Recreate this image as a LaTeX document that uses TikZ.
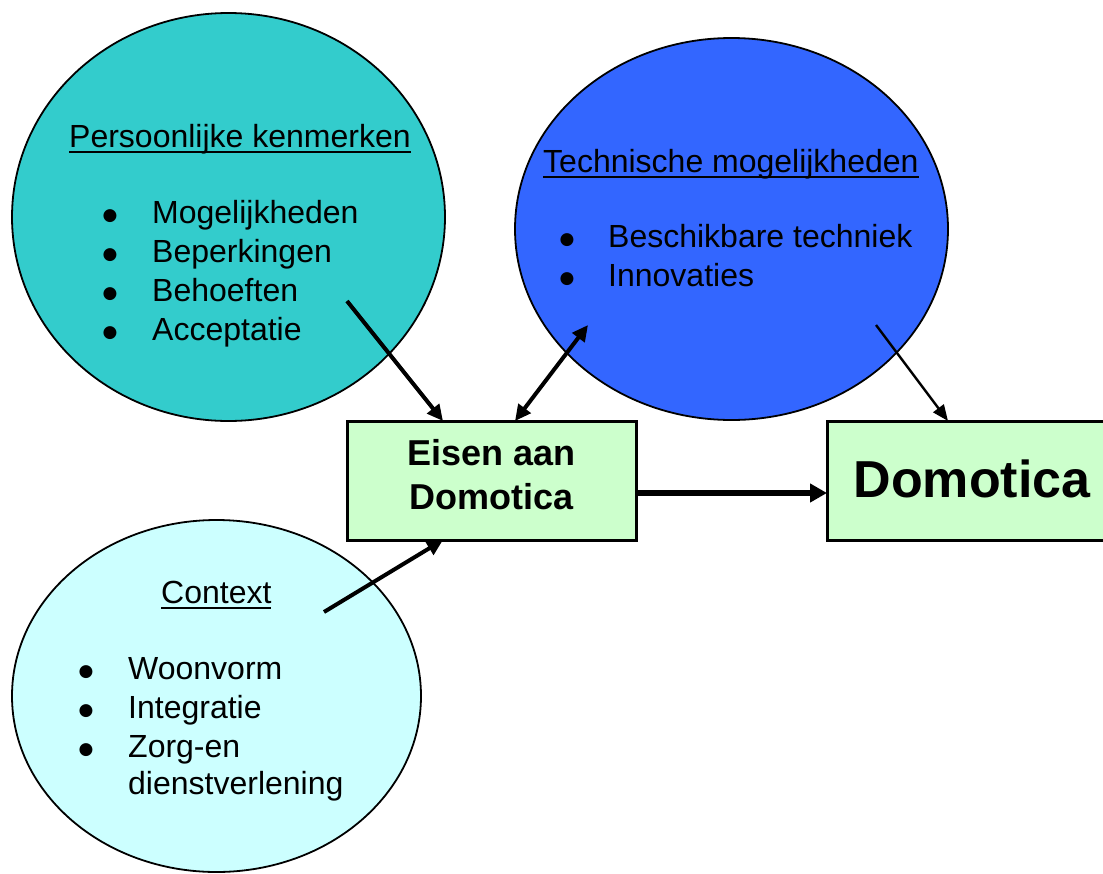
\documentclass[tikz,border=0pt]{standalone}
\usepackage{fontspec}
\setmainfont{Liberation Sans}
\newfontfamily\symfont{DejaVu Sans}
\usetikzlibrary{arrows.meta,shapes.geometric}
\definecolor{tealc}{HTML}{33CCCC}
\definecolor{bluec}{HTML}{3366FF}
\definecolor{cyanc}{HTML}{CCFFFF}
\definecolor{greenc}{HTML}{CCFFCC}
\newsavebox\myulbox
\newcommand\myul[1]{\sbox\myulbox{#1}\rlap{\rule[-5.6pt]{\wd\myulbox}{2pt}}\usebox\myulbox}
\tikzset{
  bubble/.style={ellipse, draw=black, line width=1.8pt, inner sep=0pt, outer sep=0pt},
  gbox/.style={rectangle, draw=black, line width=3pt, fill=greenc, inner sep=0pt, outer sep=0pt},
  txt/.style={anchor=base west, inner sep=0pt, font=\fontsize{32}{39}\selectfont},
  bul/.style={anchor=base, inner sep=0pt, yshift=3pt, font=\symfont\fontsize{17}{20}\selectfont},
  boxtxt/.style={anchor=base, inner sep=0pt, font=\fontsize{36}{44}\bfseries},
  bigtxt/.style={anchor=base, inner sep=0pt, font=\fontsize{52}{60}\bfseries},
  arr/.style={line width=4pt, -{Triangle[length=16pt,width=15pt]}},
  darr/.style={line width=4pt, {Triangle[length=16pt,width=15pt]}-{Triangle[length=16pt,width=15pt]}},
  thinarr/.style={line width=2.4pt, -{Triangle[length=16pt,width=13pt]}},
  fatarr/.style={line width=6pt, -{Triangle[length=17pt,width=18pt]}},
}
\begin{document}
\begin{tikzpicture}[x=1pt,y=-1pt]
\useasboundingbox (0,0) rectangle (1103,873);
\clip (0,0) rectangle (1103,873);

% bubbles
\node[bubble, fill=tealc, minimum width=433pt, minimum height=408pt] (pk) at (228.5,217) {};
\node[bubble, fill=bluec, minimum width=433pt, minimum height=382pt] (tm) at (731.5,229) {};
\node[bubble, fill=cyanc, minimum width=409pt, minimum height=352pt] (cx) at (216.5,696) {};

% boxes
\node[gbox, minimum width=289pt, minimum height=119pt] (e) at (491.5,480.5) {};
\node[gbox, minimum width=290pt, minimum height=119pt] (d) at (972,480.5) {};

% texts circle 1
\node[txt] (pkt) at (69,147) {\myul{Persoonlijke kenmerken}};
\node[bul] (pkb1) at (110,223) {●};
\node[txt] (pk1) at (152,223) {Mogelijkheden};
\node[bul] (pkb2) at (110,262) {●};
\node[txt] (pk2) at (152,262) {Beperkingen};
\node[bul] (pkb3) at (110,301) {●};
\node[txt] (pk3) at (152,301) {Behoeften};
\node[bul] (pkb4) at (110,340) {●};
\node[txt] (pk4) at (152,340) {Acceptatie};

% texts circle 2
\node[txt] (tmt) at (543,172) {\myul{Technische mogelijkheden}};
\node[bul] (tmb1) at (567,247) {●};
\node[txt] (tm1) at (608,247) {Beschikbare techniek};
\node[bul] (tmb2) at (567,286) {●};
\node[txt] (tm2) at (608,286) {Innovaties};

% texts circle 3
\node[txt] (cxt) at (161,603) {\myul{Context}};
\node[bul] (cxb1) at (86,679) {●};
\node[txt] (cx1) at (128,679) {Woonvorm};
\node[bul] (cxb2) at (86,718) {●};
\node[txt] (cx2) at (128,718) {Integratie};
\node[bul] (cxb3) at (86,757) {●};
\node[txt] (cx3) at (128,757) {Zorg-en};
\node[txt] (cx4) at (128,794) {dienstverlening};

% box texts
\node[boxtxt] (et1) at (491.5,465) {Eisen aan};
\node[boxtxt] (et2) at (491.5,509) {Domotica};
\node[bigtxt] (dt) at (972,497) {Domotica};

% connector free ends
\coordinate (s1) at (347,301);
\coordinate (s2) at (588,325);
\coordinate (s3) at (876,325);
\coordinate (s5) at (324,612);

% connectors
\draw[arr] (s1) -- ([xshift=-48.5pt]e.north);
\draw[darr] (s2) -- ([xshift=23.5pt]e.north);
\draw[thinarr] (s3) -- ([xshift=-24pt]d.north);
\draw[arr] (s5) -- ([xshift=-48.5pt]e.south);
\draw[fatarr] ([yshift=-12.5pt]e.east) -- ([yshift=-12.5pt]d.west);
\end{tikzpicture}
\end{document}
